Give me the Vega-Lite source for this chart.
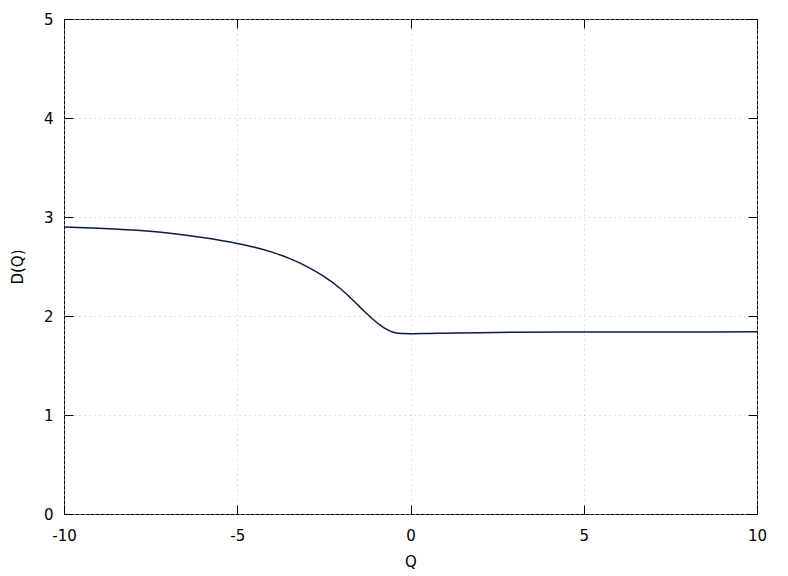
{
  "$schema": "https://vega.github.io/schema/vega-lite/v6.json",
  "width": 693,
  "height": 495,
  "autosize": "none",
  "padding": {"left": 64, "top": 19, "right": 31, "bottom": 62},
  "background": "white",
  "config": {
    "view": {"stroke": "black", "strokeWidth": 1},
    "font": "DejaVu Sans",
    "axis": {"labelFont": "DejaVu Sans", "titleFont": "DejaVu Sans", "labelFontSize": 15, "titleFontSize": 15, "titleFontWeight": "normal", "labelColor": "black", "titleColor": "black", "domain": false, "tickColor": "black", "gridColor": "#c4c4c4", "gridDash": [1, 4], "gridWidth": 1}
  },
  "data": {"values": [
    {"Q": -10, "D": 2.900},
    {"Q": -9, "D": 2.887},
    {"Q": -8, "D": 2.868},
    {"Q": -7, "D": 2.839},
    {"Q": -6, "D": 2.793},
    {"Q": -5, "D": 2.733},
    {"Q": -4.5, "D": 2.694},
    {"Q": -4, "D": 2.645},
    {"Q": -3.5, "D": 2.582},
    {"Q": -3, "D": 2.502},
    {"Q": -2.5, "D": 2.400},
    {"Q": -2, "D": 2.270},
    {"Q": -1.75, "D": 2.190},
    {"Q": -1.5, "D": 2.105},
    {"Q": -1.25, "D": 2.020},
    {"Q": -1, "D": 1.942},
    {"Q": -0.75, "D": 1.877},
    {"Q": -0.5, "D": 1.836},
    {"Q": -0.25, "D": 1.822},
    {"Q": 0, "D": 1.821},
    {"Q": 0.5, "D": 1.823},
    {"Q": 1, "D": 1.826},
    {"Q": 2, "D": 1.832},
    {"Q": 3, "D": 1.836},
    {"Q": 5, "D": 1.838},
    {"Q": 7, "D": 1.839},
    {"Q": 10, "D": 1.840}
  ]},
  "layer": [
    {
      "mark": {"type": "line", "color": "#0d1b3e", "strokeWidth": 1.5, "interpolate": "monotone", "clip": true},
      "encoding": {
        "x": {"field": "Q", "type": "quantitative", "scale": {"domain": [-10, 10], "nice": false, "zero": false},
          "axis": {"title": "Q", "values": [-10, -5, 0, 5, 10], "labelExpr": "toString(datum.value)", "grid": true, "tickSize": -9, "labelPadding": 23, "titlePadding": 11, "labelFlush": false}},
        "y": {"field": "D", "type": "quantitative", "scale": {"domain": [0, 5], "nice": false, "zero": false},
          "axis": {"title": "D(Q)", "values": [0, 1, 2, 3, 4, 5], "labelExpr": "toString(datum.value)", "grid": true, "tickSize": -9, "labelPadding": 20, "titlePadding": 18}}
      }
    },
    {
      "mark": {"type": "line", "opacity": 0},
      "encoding": {
        "x": {"field": "Q", "type": "quantitative", "scale": {"domain": [-10, 10], "nice": false, "zero": false},
          "axis": {"orient": "top", "title": null, "labels": false, "values": [-10, -5, 0, 5, 10], "grid": false, "tickSize": -9}},
        "y": {"field": "D", "type": "quantitative", "scale": {"domain": [0, 5], "nice": false, "zero": false},
          "axis": {"orient": "right", "title": null, "labels": false, "values": [0, 1, 2, 3, 4, 5], "grid": false, "tickSize": -9}}
      }
    }
  ],
  "resolve": {"axis": {"x": "independent", "y": "independent"}}
}
